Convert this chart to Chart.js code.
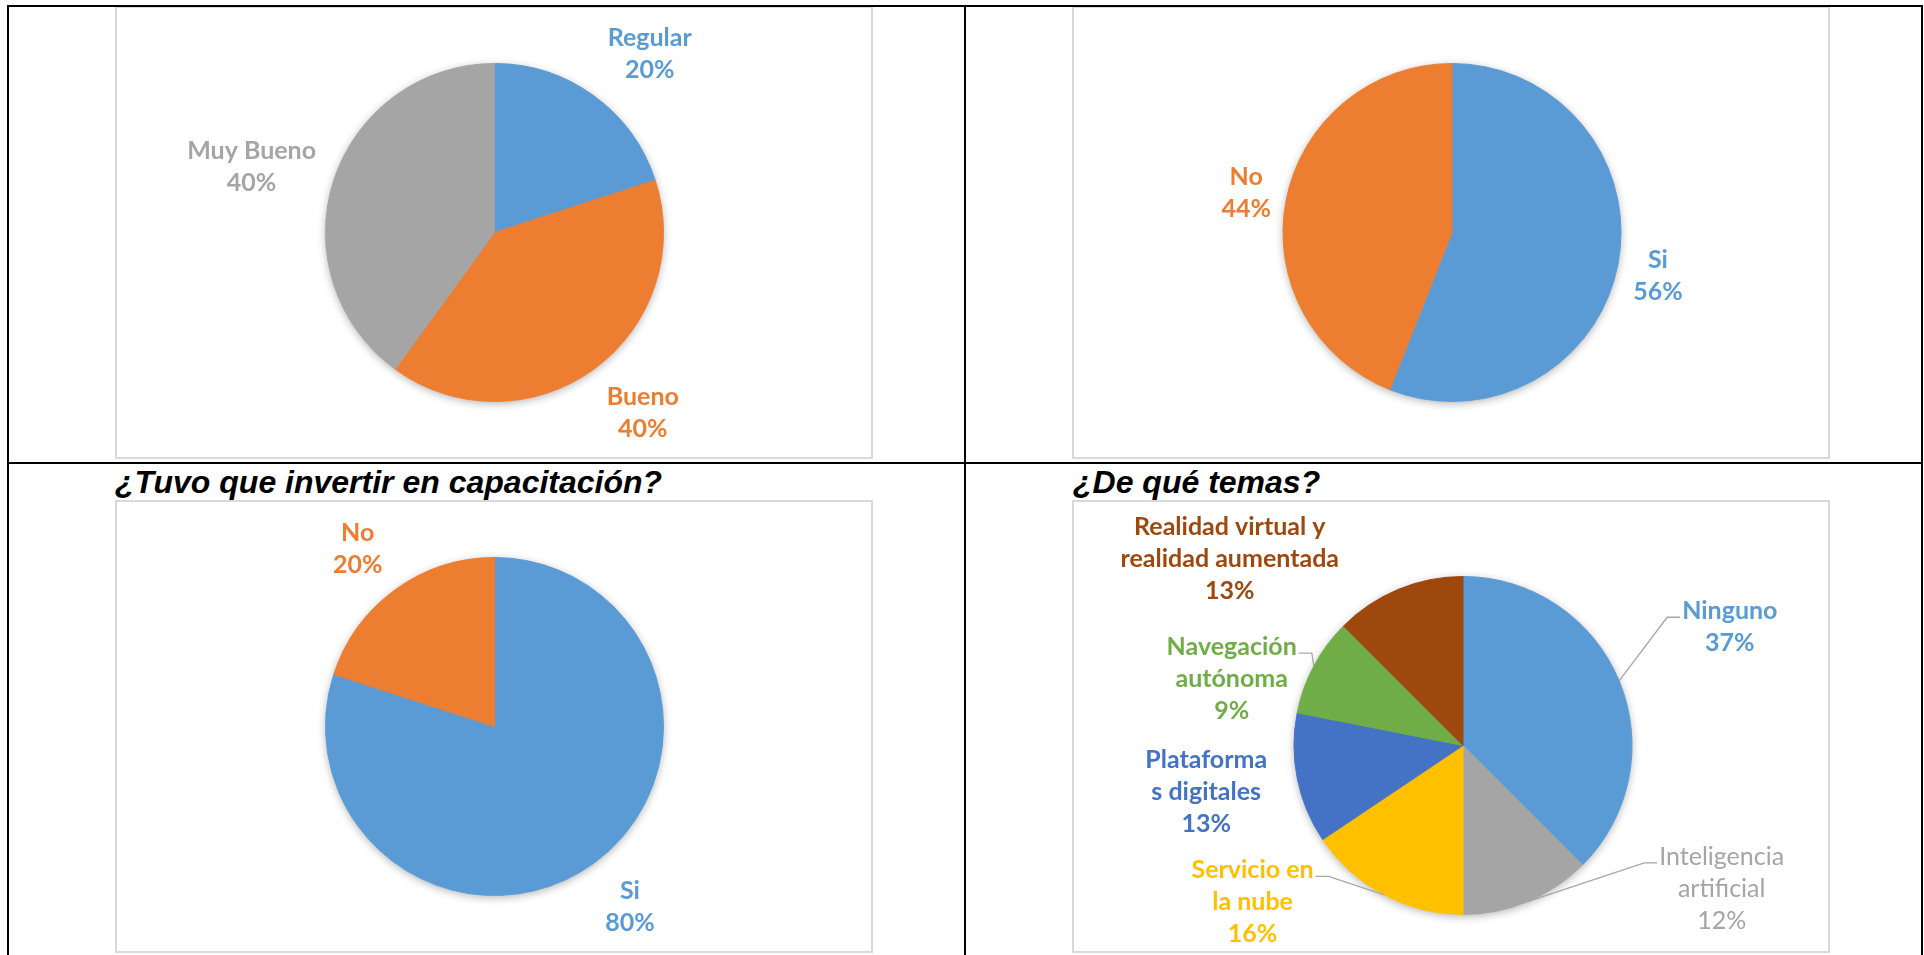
<!DOCTYPE html>
<html>
<head>
<meta charset="utf-8">
<script src="https://cdn.jsdelivr.net/npm/chart.js@4.4.0/dist/chart.umd.min.js"></script>
<style>
  body { margin: 0; background: #fff; width: 1924px; height: 955px; overflow: hidden; position: relative; }
  .frame { position: absolute; border: 2px solid #d9d9d9; box-sizing: border-box; width: 758px; height: 453px; }
  canvas { position: absolute; }
  .rule { position: absolute; background: #000; }
  .title { position: absolute; font: italic bold 32px "Liberation Sans", Arial, sans-serif; line-height: 32px; color: #000; white-space: nowrap; }
</style>
</head>
<body>
  <div class="frame" style="left:115px; top:6px"></div>
  <div class="frame" style="left:1072px; top:6px"></div>
  <div class="frame" style="left:115px; top:500px"></div>
  <div class="frame" style="left:1072px; top:500px"></div>

  <canvas id="chart1" width="758" height="453" style="left:115px; top:6px"></canvas>
  <canvas id="chart2" width="758" height="453" style="left:1072px; top:6px"></canvas>
  <canvas id="chart3" width="758" height="453" style="left:115px; top:500px"></canvas>
  <canvas id="chart4" width="758" height="453" style="left:1072px; top:500px"></canvas>

  <div class="title" style="left:115px; top:466px">¿Tuvo que invertir en capacitación?</div>
  <div class="title" style="left:1073px; top:466px">¿De qué temas?</div>

  <!-- table lines -->
  <div class="rule" style="left:7px; top:5px; width:1916px; height:2px"></div>
  <div class="rule" style="left:7px; top:462px; width:1916px; height:2px"></div>
  <div class="rule" style="left:7px; top:5px; width:2px; height:950px"></div>
  <div class="rule" style="left:964px; top:5px; width:2px; height:950px"></div>
  <div class="rule" style="left:1921px; top:5px; width:2px; height:950px"></div>

<script>
// chart 1: valoración
const ratingNames = ["Regular", "Bueno", "Muy Bueno"];
const ratingValues = [20, 40, 40];
const ratingPct = ["20%", "40%", "40%"];

// chart 2: si / no
const yesNoNames = ["Si", "No"];
const yesNoValues = [56, 44];
const yesNoPct = ["56%", "44%"];

// chart 3: ¿Tuvo que invertir en capacitación?
const trainingNames = ["Si", "No"];
const trainingValues = [80, 20];
const trainingPct = ["80%", "20%"];

// chart 4: ¿De qué temas?
const topicNames = [
  ["Ninguno"],
  ["Inteligencia", "artificial"],
  ["Servicio en", "la nube"],
  ["Plataforma", "s digitales"],
  ["Navegación", "autónoma"],
  ["Realidad virtual y", "realidad aumentada"]
];
const topicValues = [37.5, 12.5, 15.6, 12.5, 9.4, 12.5];
const topicPct = ["37%", "12%", "16%", "13%", "9%", "13%"];

const BLUE = "#5B9BD5", ORANGE = "#ED7D31", GRAY = "#A5A5A5", YELLOW = "#FFC000",
      DARKBLUE = "#4472C4", GREEN = "#70AD47", BROWN = "#9E480E";

// soft shadow under the whole pie, like Excel
const pieShadow = {
  id: "pieShadow",
  beforeDatasetsDraw(chart) {
    const arc = chart.getDatasetMeta(0).data[0];
    if (!arc) return;
    const ctx = chart.ctx;
    ctx.save();
    ctx.shadowColor = "rgba(0,0,0,0.3)";
    ctx.shadowBlur = 9;
    ctx.shadowOffsetY = 2;
    ctx.fillStyle = "#fff";
    ctx.beginPath();
    ctx.arc(arc.x, arc.y, arc.outerRadius, 0, Math.PI * 2);
    ctx.fill();
    ctx.restore();
  }
};

// data labels outside the pie, with optional leader lines
const pieLabels = {
  id: "pieLabels",
  afterDatasetsDraw(chart, args, opts) {
    const ctx = chart.ctx;
    const ds = chart.data.datasets[0];
    const arcs = chart.getDatasetMeta(0).data;
    const lineH = 32;
    ctx.save();
    ctx.textAlign = "center";
    ctx.textBaseline = "middle";
    arcs.forEach((arc, i) => {
      const spot = opts.spots[i];
      const a = (spot[0] - 90) * Math.PI / 180;
      const cx = arc.x + Math.cos(a) * arc.outerRadius * spot[1];
      const cy = arc.y + Math.sin(a) * arc.outerRadius * spot[1];
      const lines = [].concat(chart.data.labels[i], opts.pct[i]);
      const color = ds.backgroundColor[i];
      ctx.font = (opts.thin && opts.thin[i] ? "" : "bold ") + opts.size + "px Lato";
      const top = cy - (lines.length - 1) * lineH / 2;

      if (opts.leaders && opts.leaders[i]) {
        const w = Math.max.apply(null, lines.map(t => ctx.measureText(t).width));
        const mid = (arc.startAngle + arc.endAngle) / 2;
        const ex = arc.x + Math.cos(mid) * arc.outerRadius;
        const ey = arc.y + Math.sin(mid) * arc.outerRadius;
        const right = cx > arc.x;
        const ax = right ? cx - w / 2 - 2 : cx + w / 2 + 2;
        const ay = top + 6;
        const bx = right ? ax - 13 : ax + 13;
        ctx.strokeStyle = "#A6A6A6";
        ctx.lineWidth = 1.3;
        ctx.beginPath();
        ctx.moveTo(ex, ey);
        ctx.lineTo(bx, ay);
        ctx.lineTo(ax, ay);
        ctx.stroke();
      }

      ctx.fillStyle = color;
      lines.forEach((t, j) => ctx.fillText(t, cx, top + j * lineH));
    });
    ctx.restore();
  }
};

function makePie(id, names, values, colors, pad, labelOpts) {
  return new Chart(document.getElementById(id), {
    type: "pie",
    data: {
      labels: names,
      datasets: [{
        data: values,
        backgroundColor: colors,
        borderColor: colors,
        borderWidth: 1,
        radius: 169
      }]
    },
    options: {
      responsive: false,
      animation: false,
      layout: { padding: pad },
      plugins: {
        legend: { display: false },
        tooltip: { enabled: false },
        pieLabels: labelOpts
      }
    },
    plugins: [pieShadow, pieLabels]
  });
}

function drawAll() {
  makePie("chart1", ratingNames, ratingValues, [BLUE, ORANGE, GRAY],
    { left: 1, top: 0, right: 0, bottom: 0 },
    { size: 25, pct: ratingPct, spots: [[41, 1.40], [140.6, 1.383], [285, 1.488]] });

  makePie("chart2", yesNoNames, yesNoValues, [BLUE, ORANGE],
    { left: 2, top: 0, right: 0, bottom: 0 },
    { size: 25, pct: yesNoPct, spots: [[101.9, 1.245], [281, 1.241]] });

  makePie("chart3", trainingNames, trainingValues, [BLUE, ORANGE],
    { left: 1, top: 0, right: 0, bottom: 0 },
    { size: 25, pct: trainingPct, spots: [[143.1, 1.335], [322.4, 1.327]] });

  makePie("chart4", topicNames, topicValues, [BLUE, GRAY, YELLOW, DARKBLUE, GREEN, BROWN],
    { left: 24, top: 38, right: 0, bottom: 0 },
    {
      size: 25, pct: topicPct,
      spots: [[66.1, 1.727], [119, 1.75], [233.3, 1.553], [259.8, 1.544], [286, 1.424], [308.6, 1.766]],
      leaders: [true, true, true, false, true, false],
      thin: [false, true, false, false, false, false]
    });
}

document.fonts.load("bold 25px Lato").then(drawAll, drawAll);
</script>
</body>
</html>
